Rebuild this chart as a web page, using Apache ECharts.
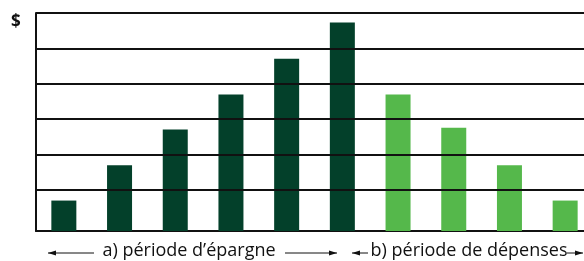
<!DOCTYPE html>
<html>
<head>
<meta charset="utf-8">
<script src="https://cdn.jsdelivr.net/npm/echarts@6/dist/echarts.min.js"></script>
<style>
  html, body { margin: 0; padding: 0; background: #fff; overflow: hidden; }
  /* chart is a bit wider than the window: the last category runs past the right border */
  #chart { width: 594px; height: 261px; }
</style>
</head>
<body>
<div id="chart"></div>
<script>
// 10 periods, first six = saving, last four = spending
const categories = ['1', '2', '3', '4', '5', '6', '7', '8', '9', '10'];
const savingValues = [0.86, 1.86, 2.87, 3.86, 4.87, 5.89, null, null, null, null];
const spendingValues = [null, null, null, null, null, null, 3.86, 2.92, 1.86, 0.86];
// horizontal rules (same units as the bars)
const gridLines = [1.16, 2.16, 3.16, 4.16, 5.16, 6.16];
const yMax = 6.16;

const labelA = 'a) période d\u2019épargne';
const labelB = 'b) période de dépenses';

const darkGreen = '#03402a';
const lightGreen = '#55b84b';
const font = '"Open Sans", "Noto Sans", sans-serif';

const chart = echarts.init(document.getElementById('chart'));

function arrow(x1, x2, y, pointRight) {
  const tip = pointRight ? x2 : x1;
  const back = pointRight ? tip - 8 : tip + 8;
  return [
    {
      type: 'line',
      shape: { x1: x1, y1: y, x2: x2, y2: y },
      style: { stroke: '#111', lineWidth: 1 },
      silent: true
    },
    {
      type: 'polygon',
      shape: { points: [[tip, y], [back, y - 2.5], [back, y + 2.5]] },
      style: { fill: '#111' },
      silent: true
    }
  ];
}

const option = {
  animation: false,
  grid: { left: 36, right: 1, top: 13, bottom: 30 },
  xAxis: {
    type: 'category',
    data: categories,
    axisLine: { show: true, lineStyle: { color: '#111', width: 2 } },
    axisTick: { show: false },
    axisLabel: { show: false },
    splitLine: { show: false }
  },
  yAxis: {
    type: 'value',
    min: 0,
    max: yMax,
    axisLine: { show: true, lineStyle: { color: '#111', width: 2 } },
    axisTick: { show: false },
    axisLabel: { show: false },
    splitLine: { show: false }
  },
  series: [
    {
      name: labelA,
      type: 'bar',
      stack: 'all',
      barWidth: 25,
      data: savingValues,
      itemStyle: { color: darkGreen },
      z: 3,
      markLine: {
        silent: true,
        symbol: 'none',
        label: { show: false },
        lineStyle: { type: 'solid', color: '#111', width: 2 },
        data: gridLines.map(v => ({ yAxis: v }))
      }
    },
    {
      name: labelB,
      type: 'bar',
      stack: 'all',
      barWidth: 25,
      data: spendingValues,
      itemStyle: { color: lightGreen },
      z: 3
    }
  ],
  graphic: [
    {
      type: 'text',
      x: 11,
      y: 22,
      style: { text: '$', font: 'bold 17px ' + font, fill: '#111', verticalAlign: 'middle' }
    },
    {
      type: 'text',
      x: 189,
      y: 251,
      style: { text: labelA, font: '18px ' + font, fill: '#111', align: 'center', verticalAlign: 'middle' }
    },
    {
      type: 'text',
      x: 469,
      y: 251,
      style: { text: labelB, font: '18px ' + font, fill: '#111', align: 'center', verticalAlign: 'middle' }
    }
  ].concat(
    arrow(48, 94, 253, false),
    arrow(285, 337, 253, true),
    arrow(352, 368, 253, false),
    arrow(567, 583, 253, true)
  )
};

chart.setOption(option);
</script>
</body>
</html>
